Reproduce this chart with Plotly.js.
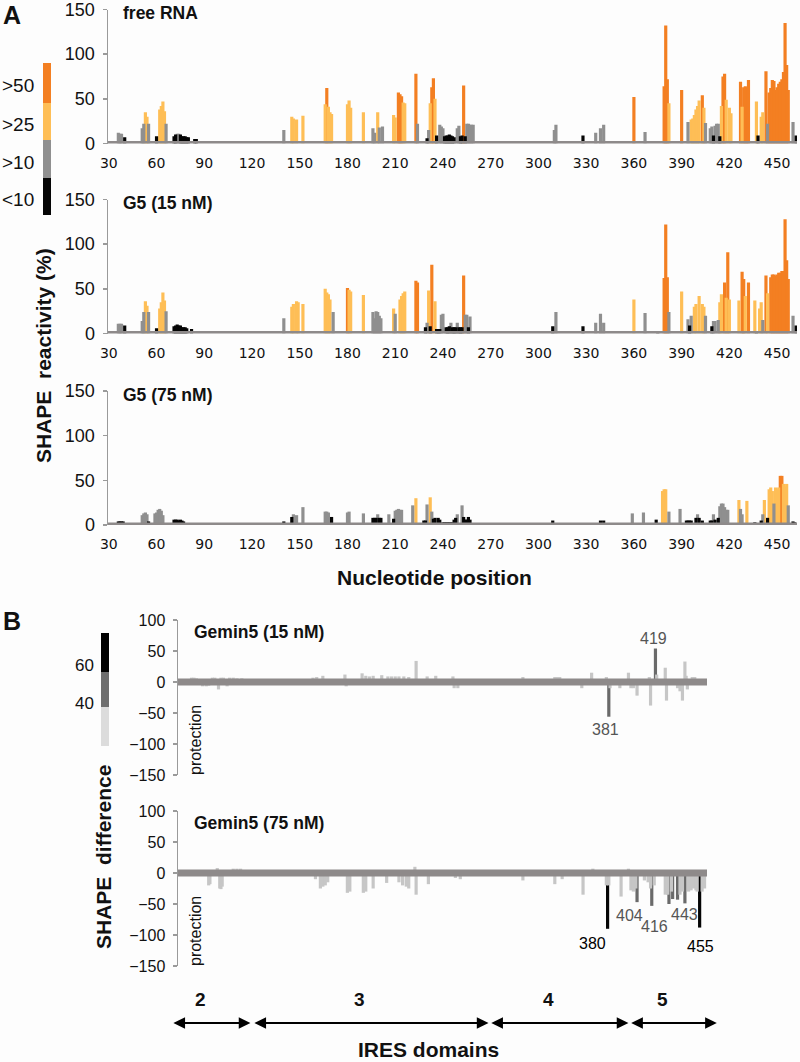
<!DOCTYPE html>
<html><head><meta charset="utf-8">
<script src="https://cdn.plot.ly/plotly-3.0.1.min.js"></script>
<style>html,body{margin:0;padding:0;background:#fdfdfd}#chart{width:800px;height:1062px}</style>
</head><body><div id="chart"></div>
<script>
// ---------- DATA ----------
// Panel A: SHAPE reactivity (%) per nucleotide position [position, value]
const freeRNA = [[36,12],[37,11],[38,11],[40,7],[51,17],[52,22],[53,35],[54,30],[55,22],[60,8],[62,38],[63,42],[64,47],[65,36],[66,22],[71,8],[72,10],[73,11],[74,11],[75,10],[76,8],[77,8],[78,8],[79,7],[80,7],[84,5],[85,5],[140,15],[145,30],[146,28],[148,27],[152,31],[166,44],[167,62],[168,41],[169,35],[170,33],[180,44],[181,48],[182,40],[190,35],[196,17],[197,12],[199,35],[200,18],[202,19],[209,32],[210,29],[212,57],[213,55],[214,53],[215,46],[216,45],[223,78],[224,22],[230,6],[231,15],[232,45],[233,63],[234,73],[235,50],[236,9],[238,21],[239,19],[240,17],[241,8],[242,9],[243,9],[244,10],[245,9],[246,8],[247,7],[249,17],[250,20],[251,8],[252,9],[253,65],[254,8],[255,22],[256,22],[257,21],[258,21],[259,21],[310,15],[311,21],[328,9],[336,12],[339,17],[341,21],[360,52],[367,13],[379,64],[380,132],[381,72],[382,45],[390,60],[394,24],[396,27],[397,28],[398,32],[399,38],[400,42],[401,48],[403,54],[404,40],[405,23],[408,17],[409,19],[410,9],[411,20],[412,22],[413,22],[414,8],[415,42],[416,75],[417,78],[418,49],[420,40],[421,34],[427,69],[428,41],[429,63],[430,64],[431,63],[432,71],[437,47],[438,9],[440,30],[441,35],[443,81],[444,22],[445,57],[446,62],[447,71],[448,70],[449,60],[450,63],[451,67],[452,69],[453,72],[454,80],[455,135],[456,88],[457,60],[460,24],[462,9]];
const g5_15nM = [[36,11],[37,11],[38,11],[40,9],[51,14],[52,24],[53,36],[54,31],[55,24],[60,6],[62,28],[63,35],[64,46],[65,37],[66,25],[71,8],[72,9],[73,10],[74,9],[75,9],[76,7],[77,7],[78,7],[79,6],[82,5],[140,17],[145,30],[146,33],[148,36],[149,35],[152,33],[166,50],[167,46],[168,44],[169,38],[171,24],[180,51],[181,49],[182,47],[190,43],[196,24],[197,17],[198,25],[199,24],[200,20],[201,17],[209,28],[210,22],[213,38],[214,42],[215,45],[216,47],[223,59],[224,57],[229,7],[230,12],[231,48],[232,8],[233,77],[235,36],[236,5],[237,5],[238,5],[239,21],[240,22],[242,7],[243,7],[244,8],[245,12],[246,7],[247,7],[248,7],[249,12],[250,7],[251,7],[252,7],[253,65],[254,21],[255,21],[256,7],[257,19],[309,8],[311,24],[328,8],[336,12],[339,22],[341,12],[360,38],[367,23],[375,2],[379,62],[380,122],[381,63],[382,24],[390,47],[394,16],[395,9],[396,20],[398,30],[399,33],[401,42],[403,33],[404,30],[405,20],[409,8],[410,14],[411,14],[413,15],[414,35],[415,44],[417,57],[418,40],[419,91],[420,38],[426,37],[428,69],[429,61],[430,42],[432,57],[436,37],[437,2],[439,28],[440,35],[441,15],[443,65],[444,45],[446,63],[447,66],[448,66],[449,65],[450,66],[451,68],[452,68],[453,70],[454,70],[455,128],[456,82],[457,61],[460,20],[462,9]];
const g5_75nM = [[36,4],[37,4],[38,4],[39,4],[51,11],[52,13],[53,14],[54,12],[55,4],[59,13],[60,14],[61,17],[62,18],[63,16],[64,11],[71,6],[72,6],[73,6],[74,5],[75,6],[76,5],[77,4],[84,2],[140,4],[145,9],[146,12],[148,11],[152,20],[166,15],[167,15],[168,14],[170,9],[180,14],[181,15],[190,13],[196,8],[197,8],[198,8],[199,12],[200,8],[201,8],[206,12],[209,7],[210,16],[211,17],[212,18],[213,17],[214,17],[221,22],[223,30],[228,5],[229,5],[230,23],[232,31],[233,15],[234,7],[235,8],[237,8],[238,6],[240,3],[241,3],[242,3],[243,3],[244,3],[245,3],[246,3],[247,6],[248,8],[249,12],[252,22],[253,9],[254,6],[255,6],[256,9],[257,6],[309,5],[327,2],[339,5],[341,5],[359,13],[366,14],[374,6],[378,38],[379,40],[380,40],[382,15],[389,18],[393,5],[394,5],[395,5],[396,5],[399,8],[400,12],[401,8],[403,5],[408,5],[409,5],[410,12],[411,6],[413,8],[414,21],[415,24],[416,24],[417,20],[418,17],[419,17],[426,28],[427,18],[428,12],[431,27],[436,3],[440,5],[441,12],[442,28],[444,8],[445,40],[446,42],[447,38],[448,24],[449,42],[450,40],[451,42],[452,55],[453,55],[454,46],[455,43],[456,46],[457,22],[460,4],[461,3]];
// Panel B: SHAPE difference per position [position, value]
const diff_15nM = [[41,7],[43,7],[45,6],[50,-7],[53,-7],[55,-6],[58,7],[60,7],[63,-12],[65,7],[67,7],[70,-7],[72,7],[75,7],[78,6],[82,6],[140,7],[143,8],[148,10],[166,12],[167,-7],[180,14],[183,10],[186,9],[189,10],[196,11],[201,9],[204,9],[207,9],[210,9],[214,9],[218,8],[224,34],[233,9],[240,10],[254,9],[255,-10],[258,-10],[311,8],[337,8],[339,8],[341,8],[359,-10],[367,15],[379,8],[381,-56],[382,-10],[390,-10],[397,15],[399,-10],[401,-10],[404,-22],[414,8],[415,-38],[419,54],[420,12],[427,23],[428,-30],[437,-10],[439,-15],[441,-30],[443,33],[444,10],[445,-12],[449,8],[451,8]];
const diff_75nM = [[55,-20],[56,-18],[62,8],[64,-25],[65,-26],[66,-22],[75,7],[78,7],[81,7],[142,-10],[146,-25],[148,-22],[150,-20],[152,-15],[168,-32],[170,-30],[181,-32],[183,-30],[189,-25],[200,-16],[210,-15],[213,-20],[216,-22],[218,-25],[223,10],[224,-35],[234,-18],[256,-8],[260,-10],[311,-12],[337,-18],[343,-10],[360,-35],[368,7],[379,-20],[380,-90],[381,-20],[391,-38],[397,7],[399,-28],[401,-30],[403,-25],[404,-47],[410,-12],[413,-15],[415,-25],[416,-53],[418,-20],[427,-35],[429,-35],[430,-50],[432,-30],[433,-42],[437,-43],[439,-35],[441,-30],[443,-49],[446,-30],[448,-28],[450,-25],[452,-28],[453,-30],[455,-88],[457,-30],[459,-25]];
const labels15 = [381, 419];
const labels75 = [380, 404, 416, 443, 455];
const xTicks = [30,60,90,120,150,180,210,240,270,300,330,360,390,420,450];
const yTicksA = [0,50,100,150];
const yTicksB = [-150,-100,-50,0,50,100];
const domainNames = ['2','3','4','5'];
const domainStart = [25, 91, 284, 398];
const domainEnd = [89, 283, 397, 469];
const panelATitles = ['free RNA','G5 (15 nM)','G5 (75 nM)'];
const panelBTitles = ['Gemin5 (15 nM)','Gemin5 (75 nM)'];
const legendA = ['&gt;50','&gt;25','&gt;10','&lt;10'];
const legendB = ['60','40'];

// ---------- STYLE ----------
const W=800,H=1062;
const px=x=>x/W, py=y=>1-y/H;
const F='Liberation Sans, Arial, Helvetica, sans-serif';
const ORANGE='#F37F22', YELLOW='#FEBE56', GRAY='#8F8F8F', BLACK='#050505';
const LGRAY='#C6C6C6', DGRAY='#6A6A6A';
const BASE='#8E8A8A', AXIS='#9A9A9A';
const catA=[{c:ORANGE,t:v=>v>50},{c:YELLOW,t:v=>v>25&&v<=50},{c:GRAY,t:v=>v>10&&v<=25},{c:BLACK,t:v=>v<=10}];
const catB=[{c:BLACK,t:v=>Math.abs(v)>=60},{c:DGRAY,t:v=>Math.abs(v)>=40&&Math.abs(v)<60},{c:LGRAY,t:v=>Math.abs(v)<40}];
const colB=v=>Math.abs(v)>=60?'#000':(Math.abs(v)>=40?'#555':LGRAY);

const traces=[];
function addBars(data,cats,xa,ya,w){
  cats.forEach(g=>{
    const pts=data.filter(p=>g.t(p[1]));
    traces.push({type:'bar',x:pts.map(p=>p[0]),y:pts.map(p=>p[1]),width:w,
      marker:{color:g.c,line:{width:0}},xaxis:xa,yaxis:ya,hoverinfo:'skip',showlegend:false});
  });
}
addBars(freeRNA,catA,'x','y',2);
addBars(g5_15nM,catA,'x2','y2',2);
addBars(g5_75nM,catA,'x3','y3',2);
addBars(diff_15nM,catB,'x4','y4',2.6);
addBars(diff_75nM,catB,'x5','y5',2.6);

const layout={width:W,height:H,margin:{l:0,r:0,t:0,b:0},paper_bgcolor:'#fdfdfd',plot_bgcolor:'rgba(0,0,0,0)',
  barmode:'overlay',showlegend:false,font:{family:F,color:'#111'},shapes:[],annotations:[]};

const aRows=[[9.5,143.5],[199.5,333.5],[391,525]];
aRows.forEach((r,i)=>{
  const s=i?String(i+1):'';
  layout['xaxis'+s]={domain:[px(108),px(797)],range:[29.5,462.5],anchor:'y'+s,showgrid:false,zeroline:false,showline:false,
    ticks:'',tickmode:'array',tickvals:xTicks,tickfont:{family:'DejaVu Sans',size:14,color:'#111'},ticklabelstandoff:9,ticklabeloverflow:'allow',fixedrange:true};
  layout['yaxis'+s]={domain:[py(r[1]),py(r[0])],range:[0,150],anchor:'x'+s,showgrid:false,zeroline:false,showline:true,
    linecolor:AXIS,linewidth:1.5,ticks:'outside',ticklen:4,tickcolor:AXIS,tickwidth:1.5,tickmode:'array',tickvals:yTicksA,
    tickfont:{family:F,size:18,color:'#111'},ticklabelstandoff:4,ticklabeloverflow:'allow',fixedrange:true};
  layout.shapes.push({type:'line',xref:'x'+s,yref:'y'+s,x0:29.5,x1:462.5,y0:0,y1:0,line:{color:BASE,width:5},layer:'above'});
  layout.annotations.push({text:panelATitles[i],xref:'paper',yref:'paper',x:px(121),y:py(r[0]+3.5),xanchor:'left',yanchor:'middle',
    showarrow:false,font:{family:F,size:17.5,weight:'bold',color:'#111'}});
});
const bRows=[[620,775],[811,966]];
bRows.forEach((r,i)=>{
  const s=String(i+4);
  layout['xaxis'+s]={domain:[px(178),px(707)],range:[30,461],anchor:'y'+s,showgrid:false,zeroline:false,showline:false,
    ticks:'',showticklabels:false,fixedrange:true};
  layout['yaxis'+s]={domain:[py(r[1]),py(r[0])],range:[-150,100],anchor:'x'+s,showgrid:false,zeroline:false,showline:true,
    linecolor:AXIS,linewidth:1.5,ticks:'outside',ticklen:4,tickcolor:AXIS,tickwidth:1.5,tickmode:'array',tickvals:yTicksB,
    tickfont:{family:F,size:16,color:'#111'},ticklabelstandoff:4,ticklabeloverflow:'allow',fixedrange:true};
  layout.shapes.push({type:'line',xref:'x'+s,yref:'y'+s,x0:30,x1:461,y0:0,y1:0,line:{color:BASE,width:7},layer:'above'});
  layout.annotations.push({text:panelBTitles[i],xref:'paper',yref:'paper',x:px(192),y:py(r[0]+12),xanchor:'left',yanchor:'middle',
    showarrow:false,font:{family:F,size:17.5,weight:'bold',color:'#111'}});
  layout.annotations.push({text:'protection',xref:'paper',yref:'paper',x:px(195),y:py(r[1]-35),textangle:-90,xanchor:'center',yanchor:'middle',
    showarrow:false,font:{family:F,size:16,color:'#111'}});
});

// bar number labels in panel B
const labelOffsets={381:[-3,-12],419:[-2,10],380:[-15,-14],404:[-8,-13],416:[3,-20],443:[0,-11],455:[1,-18]};
function addLabels(list,data,xa,ya){
  list.forEach(n=>{
    const v=data.find(p=>p[0]===n)[1];
    const o=labelOffsets[n]||[0,0];
    layout.annotations.push({text:String(n),xref:xa,yref:ya,x:n,y:v,xanchor:'center',yanchor:v>0?'bottom':'top',
      xshift:o[0],yshift:v>0?o[1]-10:o[1]+10,showarrow:false,font:{family:F,size:16,color:colB(v)}});
  });
}
addLabels(labels15,diff_15nM,'x4','y4');
addLabels(labels75,diff_75nM,'x5','y5');

// domain arrows
domainNames.forEach((d,i)=>{
  layout.annotations.push({text:'',xref:'x5',yref:'paper',x:domainEnd[i],y:py(1023),axref:'x5',ax:domainStart[i],ayref:'pixel',ay:0,
    showarrow:true,arrowside:'end+start',arrowhead:2,startarrowhead:2,arrowsize:1.3,startarrowsize:1.3,arrowwidth:1.8,arrowcolor:'#000',standoff:0,startstandoff:0});
  layout.annotations.push({text:d,xref:'x5',yref:'paper',x:(domainStart[i]+domainEnd[i])/2,y:py(1000),xshift:-11,xanchor:'center',yanchor:'middle',
    showarrow:false,font:{family:F,size:19,weight:'bold',color:'#111'}});
});

// legends (colour keys)
const aKey=[[63,103,ORANGE],[103,140,YELLOW],[140,178,GRAY],[178,215,BLACK]];
aKey.forEach((k,i)=>{
  layout.shapes.push({type:'rect',xref:'paper',yref:'paper',x0:px(43),x1:px(51),y0:py(k[1]),y1:py(k[0]),fillcolor:k[2],line:{width:0}});
  layout.annotations.push({text:legendA[i],xref:'paper',yref:'paper',x:px(36),y:py(k[0]+(k[1]-k[0])/2+3),xanchor:'right',yanchor:'middle',
    showarrow:false,font:{family:F,size:19,color:'#111'}});
});
const bKey=[[633,672,'#000'],[672,707,'#6E6E6E'],[707,746,'#DCDCDC']];
bKey.forEach(k=>layout.shapes.push({type:'rect',xref:'paper',yref:'paper',x0:px(101),x1:px(109),y0:py(k[1]),y1:py(k[0]),fillcolor:k[2],line:{width:0}}));
legendB.forEach((t,i)=>layout.annotations.push({text:t,xref:'paper',yref:'paper',x:px(96),y:py([665,703][i]),xanchor:'right',yanchor:'middle',
  showarrow:false,font:{family:F,size:17,color:'#111'}}));

// panel letters & axis titles
const txt=(t,x,y,o)=>layout.annotations.push(Object.assign({text:t,xref:'paper',yref:'paper',x:px(x),y:py(y),xanchor:'center',yanchor:'middle',showarrow:false,
  font:{family:F,size:21,weight:'bold',color:'#111'}},o||{}));
txt('A',12,15,{font:{family:F,size:25,weight:'bold',color:'#111'}});
txt('B',12,621,{font:{family:F,size:25,weight:'bold',color:'#111'}});
txt('SHAPE\u00a0 reactivity (%)',44,356,{textangle:-90});
txt('Nucleotide position',435,577);
txt('SHAPE\u00a0 difference',103,857,{textangle:-90});
txt('IRES domains',428,1049);

Plotly.newPlot('chart',traces,layout,{staticPlot:true});
</script></body></html>
